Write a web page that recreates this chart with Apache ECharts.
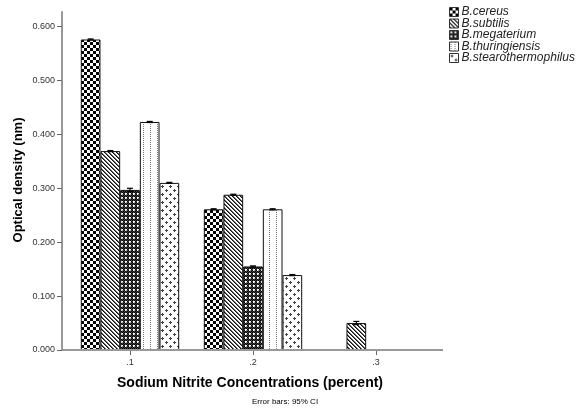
<!DOCTYPE html>
<html>
<head>
<meta charset="utf-8">
<script src="https://cdn.jsdelivr.net/npm/echarts@6/dist/echarts.min.js"></script>
<style>
html,body{margin:0;padding:0;background:#fff;}
#chart{width:577px;height:410px;}
</style>
</head>
<body>
<div id="chart"></div>
<script>
// ---- data ----
const categories = ['.1', '.2', '.3'];
const seriesNames = ['B.cereus', 'B.subtilis', 'B.megaterium', 'B.thuringiensis', 'B.stearothermophilus'];
const cereus = [0.576, 0.261, null];
const subtilis = [0.369, 0.288, 0.050];
const megaterium = [0.297, 0.155, null];
const thuringiensis = [0.423, 0.261, null];
const stearothermophilus = [0.310, 0.139, null];
// error bar half-widths (95% CI)
const cereusErr = [0.001, 0.001, null];
const subtilisErr = [0.001, 0.001, 0.003];
const megateriumErr = [0.003, 0.001, null];
const thuringiensisErr = [0.001, 0.001, null];
const stearothermophilusErr = [0.001, 0.001, null];
const yTicks = [0, 0.1, 0.2, 0.3, 0.4, 0.5, 0.6];

const values = [cereus, subtilis, megaterium, thuringiensis, stearothermophilus];
const errors = [cereusErr, subtilisErr, megateriumErr, thuringiensisErr, stearothermophilusErr];

// ---- patterns ----
function tile(w, h, fn) {
  const c = document.createElement('canvas');
  c.width = w; c.height = h;
  const ctx = c.getContext('2d');
  ctx.fillStyle = '#fff';
  ctx.fillRect(0, 0, w, h);
  for (let y = 0; y < h; y++) for (let x = 0; x < w; x++) {
    const col = fn(x, y);
    if (col) { ctx.fillStyle = col; ctx.fillRect(x, y, 1, 1); }
  }
  return c;
}
const patterns = [
  tile(6, 6, (x, y) => ((Math.floor(x / 3) + Math.floor(y / 3)) % 2 === 0) ? '#000' : null),
  tile(4, 4, (x, y) => { const d = ((x - y) % 4 + 4) % 4; return d === 0 ? '#111' : (d === 1 ? '#666' : null); }),
  tile(4, 4, (x, y) => { if ((x === 1 || x === 2) && (y === 1 || y === 2)) return (x===2&&y===2)?'#999':'#fff'; return (x + y) % 2 === 0 ? '#000' : '#444'; }),
  tile(4, 2, (x, y) => (x === 1 && y === 0) ? '#777' : null),
  tile(8, 8, (x, y) => {
    const p = (cx, cy) => (x === cx && Math.abs(y - cy) <= 1) || (y === cy && Math.abs(x - cx) <= 1);
    if (p(2, 2) || p(6, 6)) return '#444';
    return null;
  })
];
// the bars use a wider spacing of dotted lines than the small legend swatch
const thurBarPattern = tile(7, 2, (x, y) => (x === 3 && y === 0) ? '#777' : null);

const chart = echarts.init(document.getElementById('chart'));
const FONT = '"Liberation Sans", Arial, sans-serif';

const barSeries = seriesNames.map((name, i) => ({
  name: name,
  type: 'bar',
  data: values[i],
  barGap: '0%',
  barCategoryGap: '20%',
  itemStyle: {
    color: { image: i === 3 ? thurBarPattern : patterns[i], repeat: 'repeat' },
    borderColor: '#111',
    borderWidth: 1
  },
  emphasis: { disabled: true }
}));

const errData = [];
values.forEach((arr, si) => arr.forEach((v, ci) => {
  if (v != null && errors[si][ci] != null) errData.push([ci, v, errors[si][ci], si]);
}));

const errSeries = {
  type: 'custom',
  data: errData,
  z: 10,
  encode: { x: 0, y: 1 },
  renderItem: function (params, api) {
    const ci = api.value(0), v = api.value(1), e = api.value(2), si = api.value(3);
    const band = api.size([1, 0])[0];
    const bw = band * 0.8 / 5;
    const center = api.coord([ci, v]);
    const x = center[0] + (si - 2) * bw;
    const top = api.coord([ci, v + e])[1];
    const bot = api.coord([ci, v - e])[1];
    const cap = 3;
    const st = { stroke: '#000', lineWidth: 1.2 };
    return {
      type: 'group',
      children: [
        { type: 'line', shape: { x1: x, y1: top, x2: x, y2: bot }, style: st },
        { type: 'line', shape: { x1: x - cap, y1: top, x2: x + cap, y2: top }, style: st },
        { type: 'line', shape: { x1: x - cap, y1: bot, x2: x + cap, y2: bot }, style: st }
      ]
    };
  }
};

const GRID_LEFT = 68.5, GRID_RIGHT = 139.5, Y_OFFSET = 6.5;

chart.setOption({
  animation: false,
  backgroundColor: '#fff',
  textStyle: { fontFamily: FONT },
  grid: { left: GRID_LEFT, right: GRID_RIGHT, top: 12, bottom: 60, containLabel: false },
  legend: {
    data: seriesNames.map((n, i) => ({ name: n, itemStyle: { color: { image: patterns[i], repeat: 'repeat' }, borderColor: '#333', borderWidth: 1 } })),
    orient: 'vertical',
    left: 449,
    top: 6,
    padding: 0,
    itemWidth: 9,
    itemHeight: 9,
    itemGap: -0.5,
    icon: 'rect',
    textStyle: { fontFamily: FONT, fontSize: 12, fontStyle: 'italic', color: '#222', padding: [0, 0, 0, -2] },
    selectedMode: false
  },
  xAxis: {
    type: 'category',
    data: categories,
    axisLine: { show: false },
    axisTick: { show: true, alignWithLabel: true, length: 5, lineStyle: { color: '#666', width: 1 } },
    axisLabel: { fontSize: 9, color: '#333', margin: 8, fontFamily: FONT }
  },
  yAxis: {
    type: 'value',
    min: 0,
    max: 0.627,
    interval: 0.1,
    offset: Y_OFFSET,
    splitLine: { show: false },
    axisLine: { show: true, lineStyle: { color: '#999', width: 2 } },
    axisTick: { show: true, length: 5, lineStyle: { color: '#666' }, customValues: yTicks },
    axisLabel: {
      fontSize: 9, color: '#333', margin: 7, fontFamily: FONT,
      customValues: yTicks,
      formatter: v => v.toFixed(3)
    }
  },
  series: barSeries.concat([errSeries])
});

// baseline of the x axis, spanning from the y axis line to the right end of the plot frame
const y0 = chart.convertToPixel({ yAxisIndex: 0 }, 0);
const xLeft = GRID_LEFT - Y_OFFSET;
const xRight = 577 - GRID_RIGHT + 5.5;
chart.setOption({
  graphic: [
    { type: 'line', shape: { x1: xLeft, y1: y0, x2: xRight, y2: y0 }, style: { stroke: '#999', lineWidth: 2 }, z: 5 },
    { type: 'text', x: 18, y: 180, rotation: Math.PI / 2,
      style: { text: 'Optical density (nm)', font: 'bold 13px ' + FONT, fill: '#000', textAlign: 'center', textVerticalAlign: 'middle' } },
    { type: 'text', x: 250, y: 383, style: { text: 'Sodium Nitrite Concentrations (percent)', font: 'bold 14px ' + FONT, fill: '#000', textAlign: 'center', textVerticalAlign: 'middle' } },
    { type: 'text', x: 285, y: 402, style: { text: 'Error bars: 95% CI', font: '8px ' + FONT, fill: '#000', textAlign: 'center', textVerticalAlign: 'middle' } }
  ]
});
</script>
</body>
</html>
